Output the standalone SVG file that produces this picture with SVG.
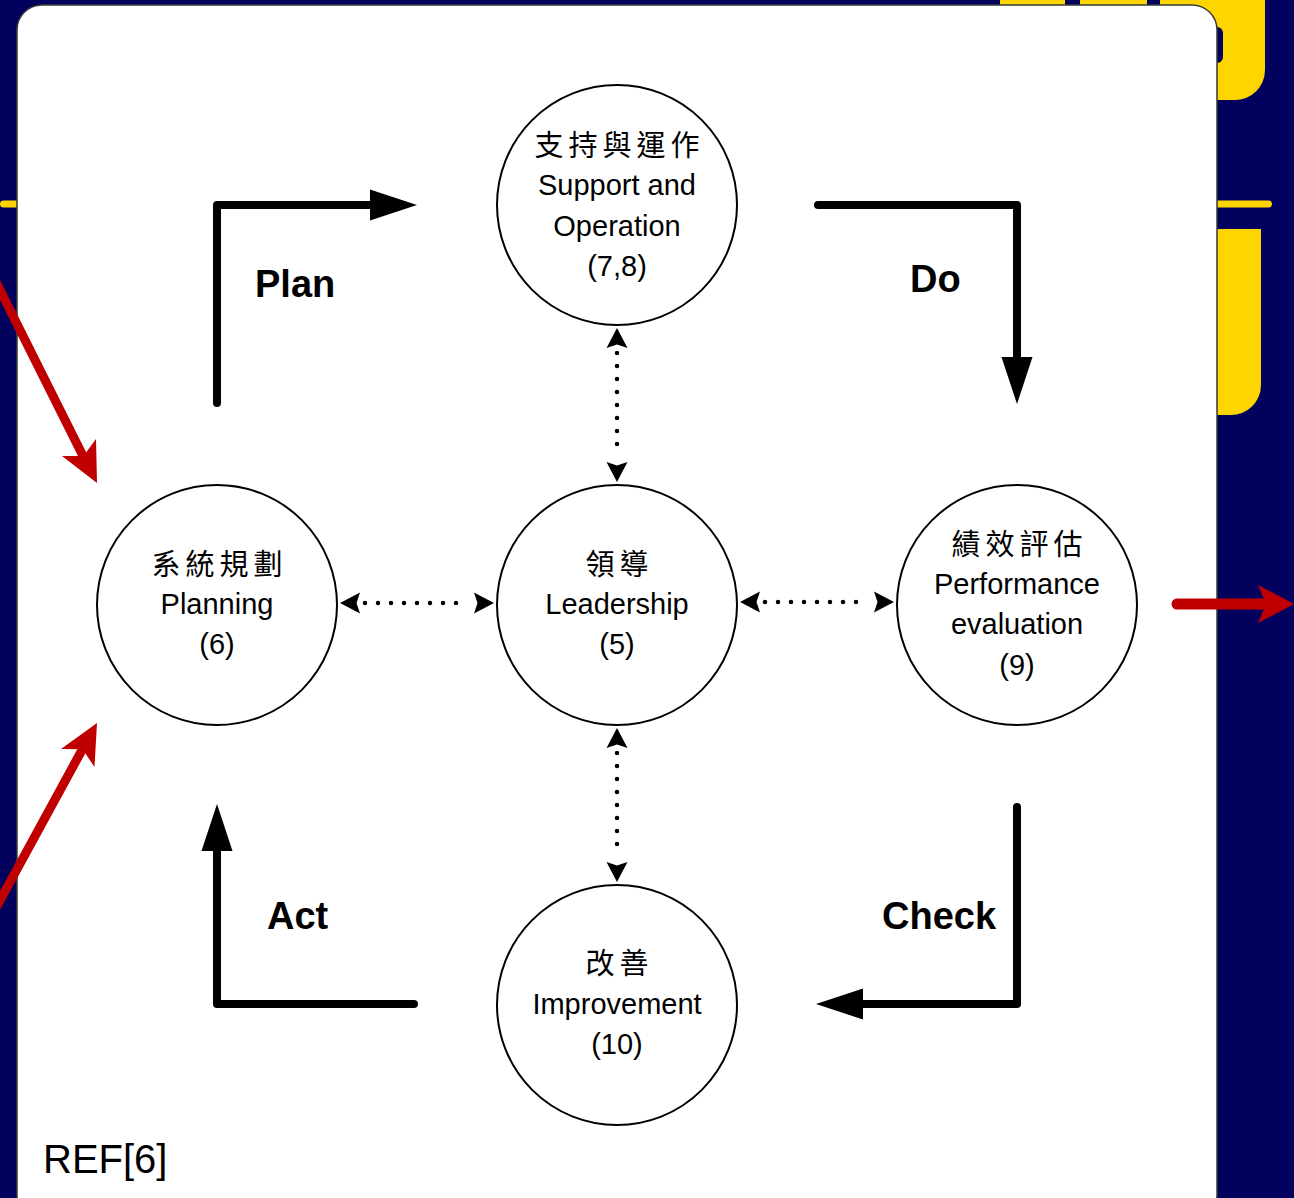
<svg xmlns="http://www.w3.org/2000/svg" width="1294" height="1198" viewBox="0 0 1294 1198">
<style>
.node circle{fill:#fff;stroke:#000;stroke-width:2}
.zh{font-family:'Noto Sans CJK TC','Noto Sans CJK SC',sans-serif;font-size:29px;letter-spacing:5px;text-anchor:middle;fill:#000}
.en{font-family:'Liberation Sans',Arial,sans-serif;font-size:29px;text-anchor:middle;fill:#000}
.lbl{font-family:'Liberation Sans',Arial,sans-serif;font-size:38px;font-weight:bold;fill:#000}
.big{fill:none;stroke:#000;stroke-width:8;stroke-linecap:round;stroke-linejoin:round;marker-end:url(#bigHead)}
.dot{fill:none;stroke:#000;stroke-width:4.5;stroke-linecap:round;stroke-dasharray:0 13;marker-start:url(#smallHead);marker-end:url(#smallHead)}
.red{fill:none;stroke:#C00000;stroke-width:9;stroke-linecap:round}
</style>
<defs>
<marker id="bigHead" markerUnits="userSpaceOnUse" viewBox="0 -16 48 32" refX="0" refY="0" markerWidth="48" markerHeight="32" orient="auto">
<path d="M0,-15.5 L47,0 L0,15.5 Z" fill="#000"/>
</marker>
<marker id="smallHead" markerUnits="userSpaceOnUse" viewBox="0 -11 26 22" refX="0" refY="0" markerWidth="26" markerHeight="22" orient="auto-start-reverse">
<path d="M5,-10.5 L25,0 L5,10.5 L8.5,0 Z" fill="#000"/>
</marker>
</defs>

<g id="background">
<rect x="0" y="0" width="1294" height="1198" fill="#02025E"/>
<rect x="1000" y="-10" width="65" height="20" fill="#FFD500"/>
<rect x="1080" y="-10" width="67" height="20" fill="#FFD500"/>
<path d="M1160,-10 H1265 V70 A30,30 0 0 1 1235,100 H1160 Z" fill="#FFD500"/>
<rect x="1195" y="27" width="28" height="36" rx="6" fill="#02025E"/>
<rect x="0" y="200.5" width="1272" height="7" rx="3.5" fill="#FFD500"/>
<path d="M1190,229 H1261 V385 A30,30 0 0 1 1231,415 H1190 Z" fill="#FFD500"/>
<rect x="17" y="5" width="1200" height="1215" rx="25" fill="#fff" stroke="#3a3a3a" stroke-width="1.5"/>
</g>

<g id="connectors">
<path class="big" d="M217,403 V205 H370"/>
<path class="big" d="M818,205 H1017 V357"/>
<path class="big" d="M1017,807 V1004 H863"/>
<path class="big" d="M414,1004 H217 V851"/>
<line class="dot" x1="617" y1="353" x2="617" y2="457"/>
<line class="dot" x1="617" y1="753" x2="617" y2="857"/>
<line class="dot" x1="365" y1="603" x2="469" y2="603"/>
<line class="dot" x1="765" y1="602" x2="869" y2="602"/>
<line class="red" x1="-20" y1="250" x2="83" y2="456"/>
<polygon points="97,483 62,456 83.5,456 96,439" fill="#C00000"/>
<line class="red" x1="-20" y1="937" x2="82" y2="750"/>
<polygon points="97,723 61,749 82.6,749.3 94.5,767" fill="#C00000"/>
<line class="red" x1="1177" y1="604" x2="1266" y2="604" style="stroke-width:11"/>
<polygon points="1294,604 1258,585 1266,604 1258,623" fill="#C00000"/>
</g>

<g id="node-support" class="node">
<circle cx="617" cy="205" r="120"/>
<text class="zh" x="619.5" y="156">支持與運作</text>
<text class="en" x="617" y="195">Support and</text>
<text class="en" x="617" y="236">Operation</text>
<text class="en" x="617" y="276">(7,8)</text>
</g>

<g id="node-planning" class="node">
<circle cx="217" cy="605" r="120"/>
<text class="zh" x="219.5" y="575">系統規劃</text>
<text class="en" x="217" y="614">Planning</text>
<text class="en" x="217" y="654">(6)</text>
</g>

<g id="node-leadership" class="node">
<circle cx="617" cy="605" r="120"/>
<text class="zh" x="619.5" y="575">領導</text>
<text class="en" x="617" y="614">Leadership</text>
<text class="en" x="617" y="654">(5)</text>
</g>

<g id="node-performance" class="node">
<circle cx="1017" cy="605" r="120"/>
<text class="zh" x="1019.5" y="555">績效評估</text>
<text class="en" x="1017" y="594">Performance</text>
<text class="en" x="1017" y="634">evaluation</text>
<text class="en" x="1017" y="675">(9)</text>
</g>

<g id="node-improvement" class="node">
<circle cx="617" cy="1005" r="120"/>
<text class="zh" x="619.5" y="974">改善</text>
<text class="en" x="617" y="1014">Improvement</text>
<text class="en" x="617" y="1054">(10)</text>
</g>

<g id="labels">
<text class="lbl" x="255" y="297">Plan</text>
<text class="lbl" x="910" y="292">Do</text>
<text class="lbl" x="882" y="929">Check</text>
<text class="lbl" x="267" y="929">Act</text>
<text x="43" y="1173" style="font-family:'Liberation Sans',Arial,sans-serif;font-size:40px;fill:#000">REF[6]</text>
</g>
</svg>
